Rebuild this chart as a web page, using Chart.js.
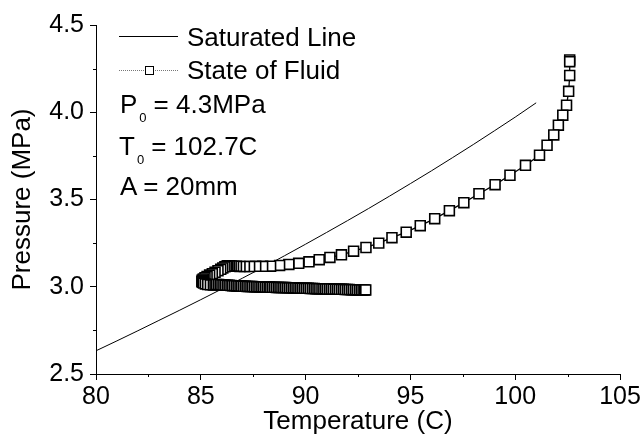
<!DOCTYPE html>
<html>
<head>
<meta charset="utf-8">
<script src="https://cdn.jsdelivr.net/npm/chart.js@4/dist/chart.umd.min.js"></script>
<style>
  html, body { margin: 0; padding: 0; background: #fff; }
  #wrap { position: relative; width: 644px; height: 437px; overflow: hidden; }
  canvas { position: absolute; left: 0; top: 0; }
  .t { position: absolute; font-family: "Liberation Sans", Arial, sans-serif; font-size: 26px; line-height: 26px; color: #000; white-space: nowrap; }
  .sub { display: inline-block; font-size: 13px; line-height: 13px; position: relative; top: 9px; margin: 0 7px 0 2px; }
  .ln { position: absolute; height: 0; }
</style>
</head>
<body>
<div id="wrap">
  <canvas id="c" width="644" height="437"></canvas>
  <div class="ln" style="left:119px;top:36px;width:59px;border-top:1px solid #000;"></div>
  <div class="t" style="left:187px;top:24px;">Saturated Line</div>
  <div class="ln" style="left:119px;top:70px;width:59px;border-top:1px dotted #777;"></div>
  <div class="ln" style="left:145px;top:66px;width:7px;height:7px;border:1px solid #000;background:#fff;"></div>
  <div class="t" style="left:187px;top:57px;">State of Fluid</div>
  <div class="t" style="left:120px;top:91px;">P<span class="sub">0</span>= 4.3MPa</div>
  <div class="t" style="left:119px;top:133px;">T<span class="sub">0</span>= 102.7C</div>
  <div class="t" style="left:120px;top:173px;">A = 20mm</div>
</div>
<script>
// Tick values
const xTicks = [80, 85, 90, 95, 100, 105];
const yTicks = [2.5, 3.0, 3.5, 4.0, 4.5];
const xMinor = [82.5, 87.5, 92.5, 97.5, 102.5];
const yMinor = [2.75, 3.25, 3.75, 4.25];

// Saturated line (temperature C, pressure MPa)
const satT = [80, 81, 82, 83, 84, 85, 86, 87, 88, 89, 90, 91, 92, 93, 94, 95, 96, 97, 98, 99, 100, 101];
const satP = [2.633, 2.690, 2.748, 2.807, 2.866, 2.926, 2.987, 3.050, 3.113, 3.178, 3.244, 3.311, 3.379, 3.448, 3.519, 3.591, 3.664, 3.739, 3.815, 3.893, 3.972, 4.054];

// State of fluid (temperature C, pressure MPa)
const fluidT = [102.60, 102.60, 102.60, 102.55, 102.45, 102.27, 102.06, 101.84, 101.52, 101.16,
  100.49, 99.75, 99.04, 98.27, 97.55, 96.86, 96.16, 95.47, 94.80, 94.12,
  93.49, 92.88, 92.29, 91.71, 91.16, 90.65, 90.16, 89.67, 89.20, 88.76,
  88.33, 87.95, 87.62, 87.33, 87.08, 86.87, 86.70, 86.56, 86.45, 86.36,
  86.29, 86.23, 86.15, 86.05, 85.95, 85.82, 85.68, 85.55, 85.42, 85.30,
  85.20, 85.12, 85.07, 85.05, 85.07, 85.13, 85.22, 85.33, 85.46, 85.60,
  85.68, 85.76, 85.85, 85.93, 86.01, 86.10, 86.18, 86.27, 86.35, 86.44,
  86.52, 86.61, 86.70, 86.78, 86.87, 86.95, 87.04, 87.13, 87.21, 87.30,
  87.39, 87.47, 87.56, 87.65, 87.73, 87.82, 87.91, 87.99, 88.08, 88.17,
  88.26, 88.34, 88.43, 88.52, 88.61, 88.70, 88.78, 88.87, 88.96, 89.05,
  89.14, 89.23, 89.32, 89.41, 89.50, 89.59, 89.68, 89.77, 89.86, 89.95,
  90.04, 90.13, 90.22, 90.32, 90.41, 90.50, 90.59, 90.68, 90.78, 90.87,
  90.96, 91.05, 91.15, 91.24, 91.33, 91.43, 91.52, 91.61, 91.71, 91.80,
  91.89, 91.99, 92.08, 92.18, 92.27, 92.37, 92.46, 92.56, 92.65, 92.74, 92.82, 92.87];
const fluidP = [4.300, 4.290, 4.211, 4.120, 4.040, 3.983, 3.926, 3.870, 3.811, 3.754,
  3.696, 3.639, 3.585, 3.533, 3.482, 3.436, 3.390, 3.350, 3.313, 3.281,
  3.250, 3.225, 3.204, 3.183, 3.168, 3.155, 3.143, 3.134, 3.128, 3.122,
  3.118, 3.117, 3.117, 3.116, 3.116, 3.116, 3.117, 3.118, 3.119, 3.120,
  3.120, 3.118, 3.114, 3.108, 3.100, 3.092, 3.083, 3.075, 3.067, 3.059,
  3.052, 3.045, 3.038, 3.032, 3.026, 3.021, 3.016, 3.013, 3.011, 3.010,
  3.012, 3.013, 3.013, 3.012, 3.011, 3.010, 3.009, 3.008, 3.008, 3.007,
  3.006, 3.006, 3.005, 3.005, 3.004, 3.004, 3.003, 3.003, 3.002, 3.002,
  3.001, 3.001, 3.000, 3.000, 3.000, 2.999, 2.999, 2.999, 2.998, 2.998,
  2.998, 2.997, 2.997, 2.997, 2.996, 2.996, 2.996, 2.995, 2.995, 2.995,
  2.994, 2.994, 2.994, 2.993, 2.993, 2.993, 2.992, 2.992, 2.992, 2.991,
  2.991, 2.991, 2.990, 2.990, 2.990, 2.989, 2.989, 2.989, 2.988, 2.988,
  2.988, 2.987, 2.987, 2.987, 2.986, 2.986, 2.986, 2.985, 2.985, 2.985,
  2.984, 2.984, 2.984, 2.983, 2.983, 2.983, 2.982, 2.982, 2.982, 2.982, 2.982, 2.982];

const FONT = { family: '"Liberation Sans", Arial, sans-serif', size: 25 };
const TFONT = { family: '"Liberation Sans", Arial, sans-serif', size: 26 };

const minorTicks = {
  id: 'minorTicks',
  afterDraw(chart) {
    const { ctx, scales: { x, y } } = chart;
    ctx.save();
    ctx.strokeStyle = '#000';
    ctx.lineWidth = 1;
    ctx.beginPath();
    xMinor.forEach(v => {
      const px = Math.round(x.getPixelForValue(v)) + 0.5;
      ctx.moveTo(px, x.top);
      ctx.lineTo(px, x.top + 3);
    });
    yMinor.forEach(v => {
      const py = Math.round(y.getPixelForValue(v)) + 0.5;
      ctx.moveTo(y.right, py);
      ctx.lineTo(y.right - 3, py);
    });
    ctx.stroke();
    ctx.restore();
  }
};

new Chart(document.getElementById('c'), {
  type: 'scatter',
  data: {
    datasets: [
      {
        label: 'State of Fluid',
        data: fluidT.map((t, i) => ({ x: t, y: fluidP[i] })),
        showLine: true,
        borderColor: '#000',
        borderWidth: 1.3,
        pointStyle: 'rect',
        pointRadius: 7,
        pointBackgroundColor: '#fff',
        pointBorderColor: '#000',
        pointBorderWidth: 1.6,
        order: 0
      },
      {
        label: 'Saturated Line',
        data: satT.map((t, i) => ({ x: t, y: satP[i] })),
        showLine: true,
        borderColor: '#000',
        borderWidth: 1,
        pointRadius: 0,
        tension: 0,
        order: 1
      }
    ]
  },
  options: {
    responsive: false,
    animation: false,
    devicePixelRatio: 1,
    layout: { padding: { left: 0, top: 25, right: 24, bottom: 0 } },
    plugins: { legend: { display: false }, tooltip: { enabled: false } },
    scales: {
      x: {
        type: 'linear', min: 80, max: 105,
        afterBuildTicks: s => { s.ticks = xTicks.map(v => ({ value: v })); },
        afterFit: s => { s.height = 63; },
        ticks: { font: FONT, color: '#000', padding: 2, maxRotation: 0, autoSkip: false, callback: v => String(v) },
        grid: { drawOnChartArea: false, drawTicks: true, tickLength: 6, color: '#000', tickColor: '#000' },
        border: { display: true, color: '#000', width: 1 },
        title: { display: true, text: 'Temperature (C)', font: TFONT, color: '#000', padding: { top: 0, bottom: 0 } }
      },
      y: {
        type: 'linear', min: 2.5, max: 4.5,
        afterBuildTicks: s => { s.ticks = yTicks.map(v => ({ value: v })); },
        afterFit: s => { s.width = 96; },
        ticks: { font: FONT, color: '#000', padding: 6, autoSkip: false, callback: v => Number(v).toFixed(1) },
        grid: { drawOnChartArea: false, drawTicks: true, tickLength: 6, color: '#000', tickColor: '#000' },
        border: { display: true, color: '#000', width: 1 },
        title: { display: true, text: 'Pressure (MPa)', font: TFONT, color: '#000', padding: { top: 7, bottom: 0 } }
      }
    }
  },
  plugins: [minorTicks]
});
</script>
</body>
</html>
